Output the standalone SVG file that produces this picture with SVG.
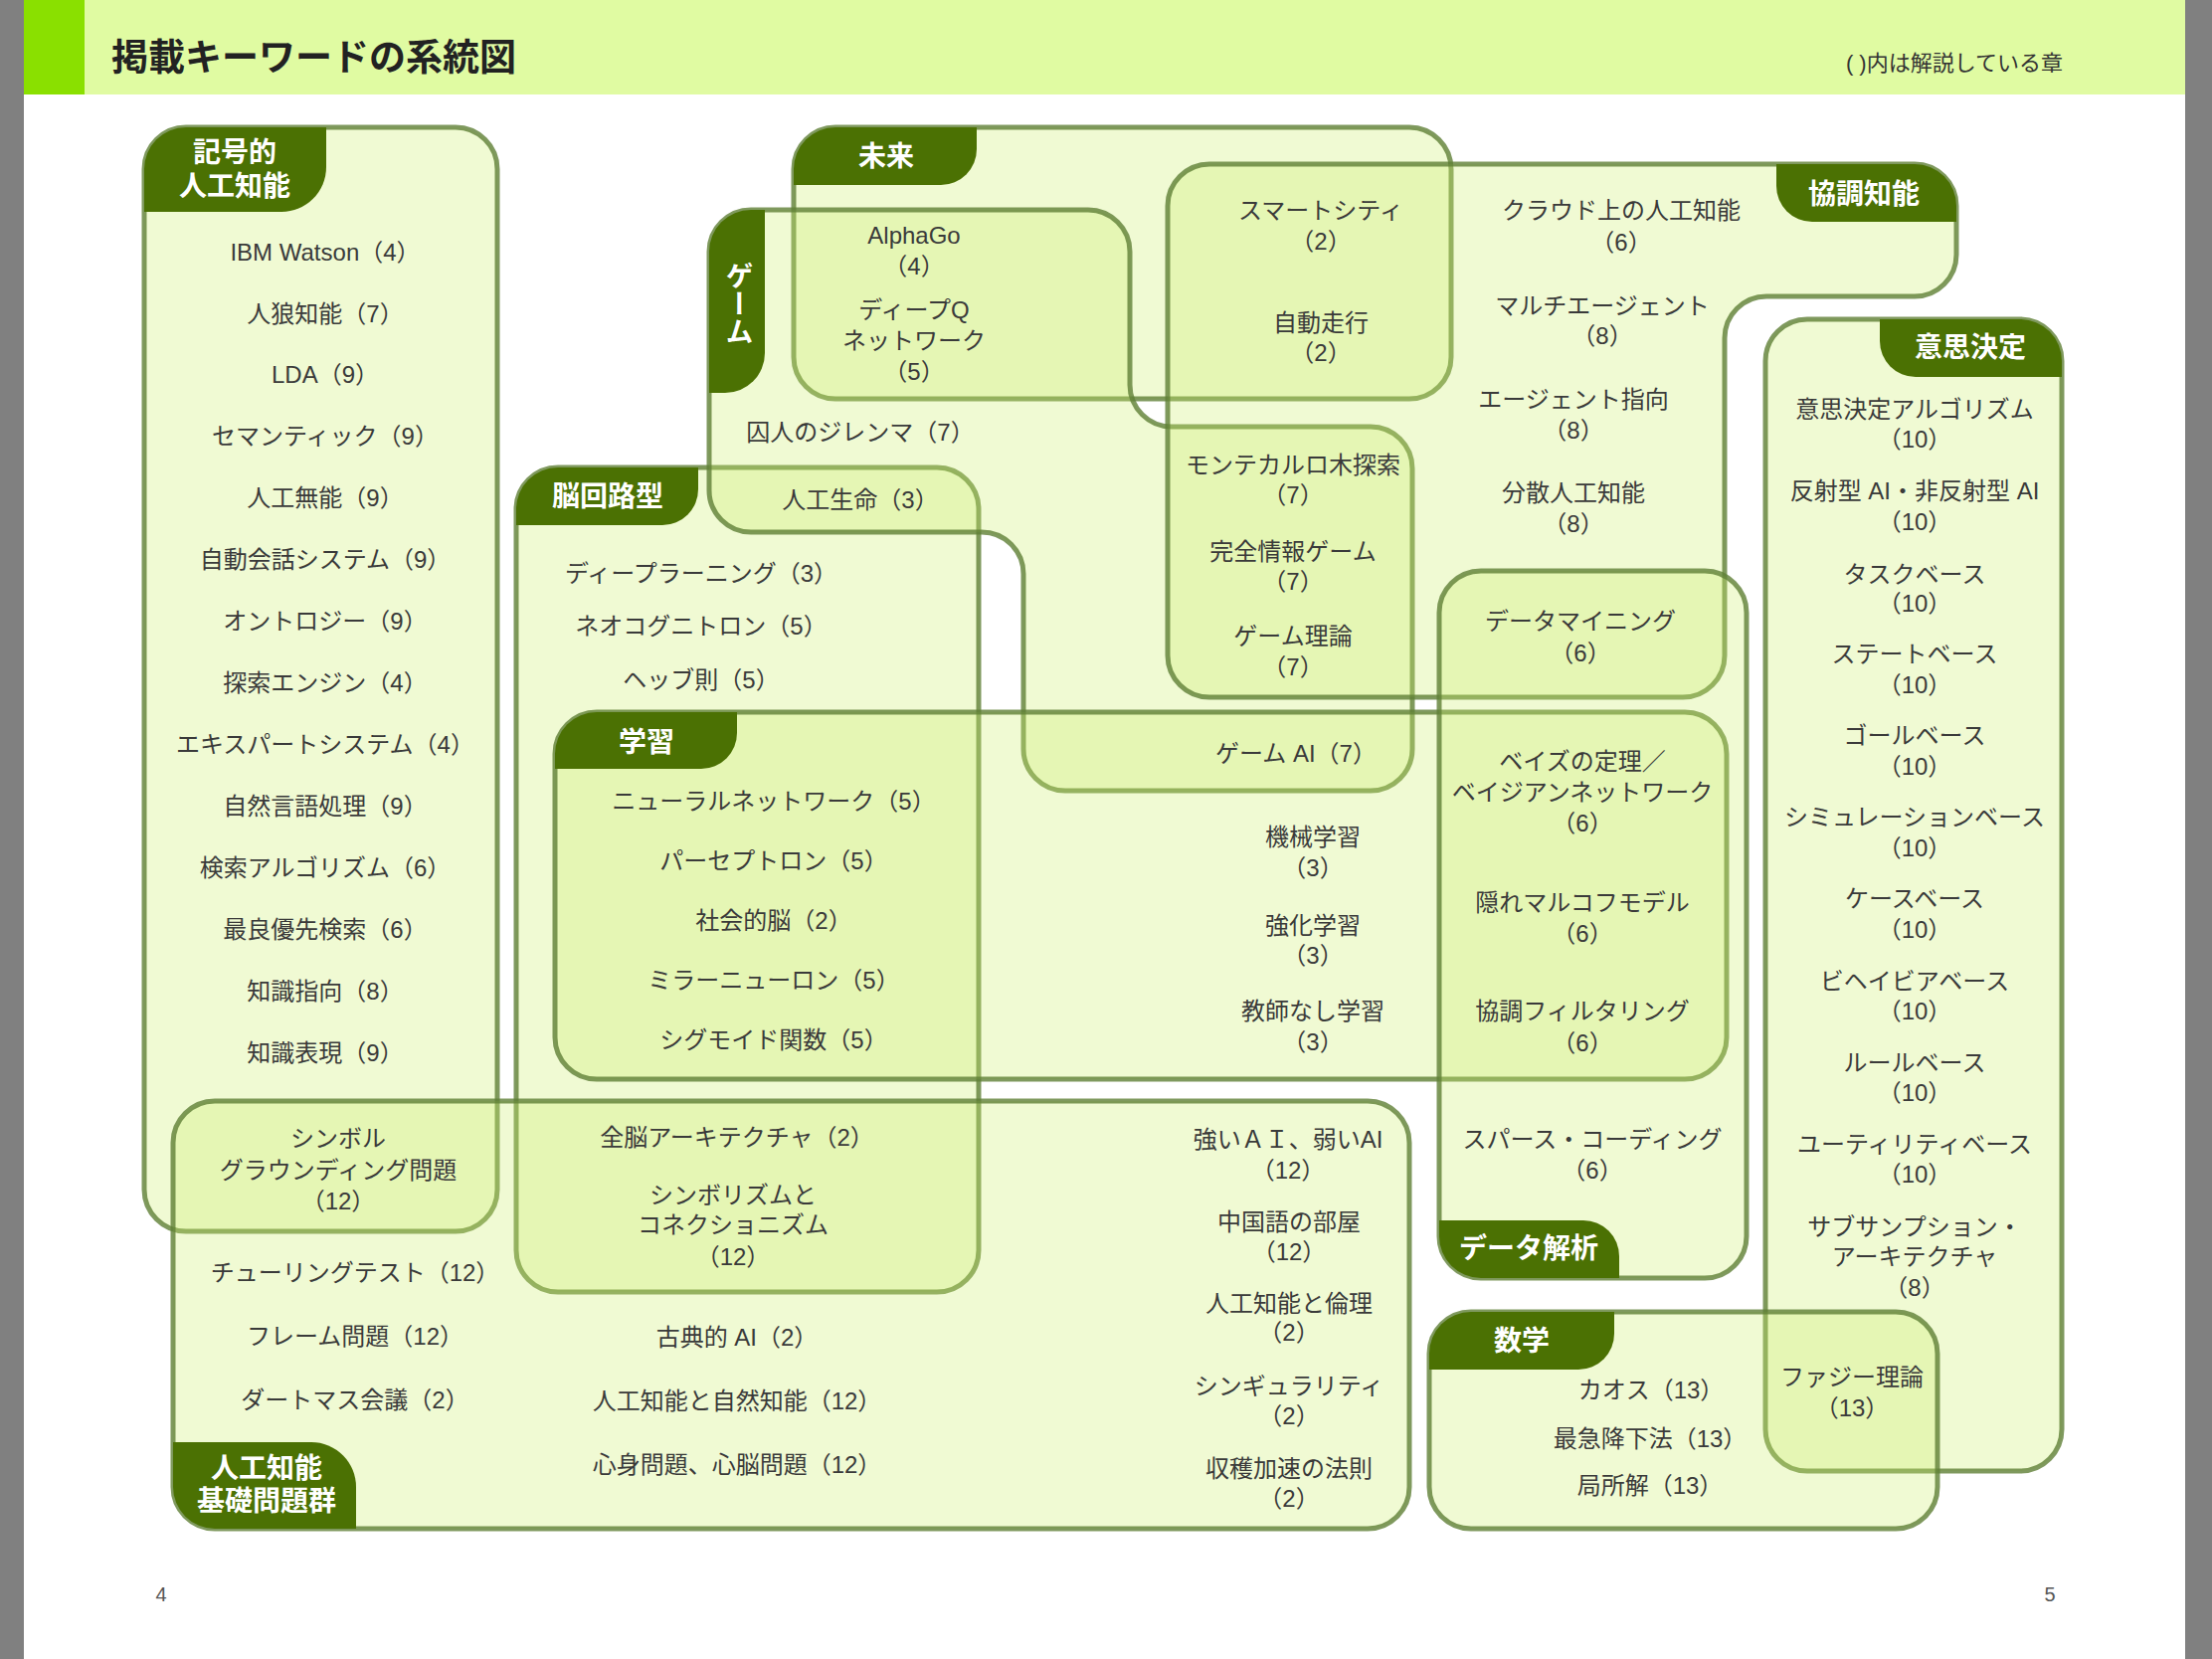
<svg xmlns="http://www.w3.org/2000/svg" width="2224" height="1668" viewBox="0 0 2224 1668">
<style>
.box{fill:rgb(205,240,110);fill-opacity:.3;stroke:#5f7f36;stroke-opacity:.8;stroke-width:5}
.tab{fill:#4b7103}
.tl{font-family:"Liberation Sans","Noto Sans CJK JP",sans-serif;font-weight:700;font-size:28px;fill:#fff;text-anchor:middle;dominant-baseline:central}
.t{font-family:"Liberation Sans","Noto Sans CJK JP",sans-serif;font-size:24px;fill:#3a3a3a;text-anchor:middle;dominant-baseline:central}
.title{font-family:"Liberation Sans","Noto Sans CJK JP",sans-serif;font-weight:700;font-size:37px;fill:#222;dominant-baseline:central}
.note{font-family:"Liberation Sans","Noto Sans CJK JP",sans-serif;font-size:22px;fill:#333;text-anchor:end;dominant-baseline:central}
.pg{font-family:"Liberation Sans",sans-serif;font-size:20px;fill:#555;text-anchor:middle;dominant-baseline:central}
</style>
<g id="page">
<rect x="0" y="0" width="2224" height="1668" fill="#ffffff"/>
<rect x="0" y="0" width="24" height="1668" fill="#808080"/>
<rect x="2197" y="0" width="27" height="1668" fill="#808080"/>
<rect x="24" y="0" width="2173" height="95" fill="#e0fba2"/>
<rect x="24" y="0" width="61" height="95" fill="#8ae000"/>
<text class="title" x="112" y="58">掲載キーワードの系統図</text>
<text class="note" x="2074" y="63">( )内は解説している章</text>
<text class="pg" x="162" y="1603">4</text>
<text class="pg" x="2061" y="1603">5</text>
</g>

<g id="kigouteki">
<rect class="box" x="145" y="128" width="355" height="1110" rx="42"/>
<path class="tab" d="M145 213V170A42 42 0 0 1 187 128H328V168A45 45 0 0 1 283 213Z"/>
<text class="tl" x="236" y="153">記号的</text>
<text class="tl" x="236" y="187">人工知能</text>
<text class="t" x="327" y="253">IBM Watson（4）</text>
<text class="t" x="327" y="315">人狼知能（7）</text>
<text class="t" x="327" y="376">LDA（9）</text>
<text class="t" x="327" y="438">セマンティック（9）</text>
<text class="t" x="327" y="500">人工無能（9）</text>
<text class="t" x="327" y="562">自動会話システム（9）</text>
<text class="t" x="327" y="624">オントロジー（9）</text>
<text class="t" x="327" y="686">探索エンジン（4）</text>
<text class="t" x="327" y="748">エキスパートシステム（4）</text>
<text class="t" x="327" y="810">自然言語処理（9）</text>
<text class="t" x="327" y="872">検索アルゴリズム（6）</text>
<text class="t" x="327" y="934">最良優先検索（6）</text>
<text class="t" x="327" y="996">知識指向（8）</text>
<text class="t" x="327" y="1058">知識表現（9）</text>
</g>

<g id="noukairo">
<rect class="box" x="519" y="470" width="465" height="829" rx="42"/>
<path class="tab" d="M519 528V512A42 42 0 0 1 561 470H702V492A36 36 0 0 1 666 528Z"/>
<text class="tl" x="611" y="499">脳回路型</text>
<text class="t" x="705" y="576">ディープラーニング（3）</text>
<text class="t" x="705" y="629">ネオコグニトロン（5）</text>
<text class="t" x="705" y="683">ヘッブ則（5）</text>
</g>

<g id="kiso">
<rect class="box" x="174" y="1107" width="1243" height="430" rx="42"/>
<path class="tab" d="M174 1450H313A45 45 0 0 1 358 1495V1537H216A42 42 0 0 1 174 1495Z"/>
<text class="tl" x="268" y="1476">人工知能</text>
<text class="tl" x="268" y="1509">基礎問題群</text>
<text class="t" x="340"><tspan x="340" y="1144">シンボル</tspan><tspan x="340" y="1176">グラウンディング問題</tspan><tspan x="340" y="1207">（12）</tspan></text>
<text class="t" x="357" y="1279">チューリングテスト（12）</text>
<text class="t" x="357" y="1343">フレーム問題（12）</text>
<text class="t" x="357" y="1407">ダートマス会議（2）</text>
<text class="t" x="741" y="1143">全脳アーキテクチャ（2）</text>
<text class="t" x="737"><tspan x="737" y="1201">シンボリズムと</tspan><tspan x="737" y="1231">コネクショニズム</tspan><tspan x="737" y="1263">（12）</tspan></text>
<text class="t" x="741" y="1344">古典的 AI（2）</text>
<text class="t" x="741" y="1408">人工知能と自然知能（12）</text>
<text class="t" x="741" y="1472">心身問題、心脳問題（12）</text>
<text class="t" x="1295"><tspan x="1295" y="1145">強いＡＩ、弱いAI</tspan><tspan x="1295" y="1176">（12）</tspan></text>
<text class="t" x="1296"><tspan x="1296" y="1228">中国語の部屋</tspan><tspan x="1296" y="1258">（12）</tspan></text>
<text class="t" x="1296"><tspan x="1296" y="1310">人工知能と倫理</tspan><tspan x="1296" y="1339">（2）</tspan></text>
<text class="t" x="1296"><tspan x="1296" y="1393">シンギュラリティ</tspan><tspan x="1296" y="1423">（2）</tspan></text>
<text class="t" x="1296"><tspan x="1296" y="1476">収穫加速の法則</tspan><tspan x="1296" y="1506">（2）</tspan></text>
</g>

<g id="mirai">
<rect class="box" x="798" y="128" width="661" height="273" rx="42"/>
<path class="tab" d="M798 186V170A42 42 0 0 1 840 128H982V150A36 36 0 0 1 946 186Z"/>
<text class="tl" x="891" y="157">未来</text>
</g>

<g id="game">
<path class="box" d="M755 211H1094A42 42 0 0 1 1136 253V387A42 42 0 0 0 1178 429H1378A42 42 0 0 1 1420 471V753A42 42 0 0 1 1378 795H1071A42 42 0 0 1 1029 753V577A42 42 0 0 0 987 535H755A42 42 0 0 1 713 493V253A42 42 0 0 1 755 211Z"/>
<path class="tab" d="M713 395V253A42 42 0 0 1 755 211H769V355A40 40 0 0 1 729 395Z"/>
<text class="tl" x="741" y="305" style="writing-mode:vertical-rl">ゲーム</text>
<text class="t" x="919"><tspan x="919" y="236">AlphaGo</tspan><tspan x="919" y="267">（4）</tspan></text>
<text class="t" x="919"><tspan x="919" y="311">ディープQ</tspan><tspan x="919" y="342">ネットワーク</tspan><tspan x="919" y="373">（5）</tspan></text>
<text class="t" x="865" y="434">囚人のジレンマ（7）</text>
<text class="t" x="865" y="502">人工生命（3）</text>
</g>

<g id="kyouchou">
<path class="box" d="M1216 165H1925A42 42 0 0 1 1967 207V256A42 42 0 0 1 1925 298H1776A42 42 0 0 0 1734 340V659A42 42 0 0 1 1692 701H1216A42 42 0 0 1 1174 659V207A42 42 0 0 1 1216 165Z"/>
<path class="tab" d="M1786 165H1925A42 42 0 0 1 1967 207V223H1822A36 36 0 0 1 1786 187Z"/>
<text class="tl" x="1874" y="195">協調知能</text>
<text class="t" x="1328"><tspan x="1328" y="211">スマートシティ</tspan><tspan x="1328" y="242">（2）</tspan></text>
<text class="t" x="1328"><tspan x="1328" y="324">自動走行</tspan><tspan x="1328" y="354">（2）</tspan></text>
<text class="t" x="1630"><tspan x="1630" y="211">クラウド上の人工知能</tspan><tspan x="1630" y="243">（6）</tspan></text>
<text class="t" x="1611"><tspan x="1611" y="307">マルチエージェント</tspan><tspan x="1611" y="337">（8）</tspan></text>
<text class="t" x="1582"><tspan x="1582" y="401">エージェント指向</tspan><tspan x="1582" y="432">（8）</tspan></text>
<text class="t" x="1582"><tspan x="1582" y="495">分散人工知能</tspan><tspan x="1582" y="526">（8）</tspan></text>
<text class="t" x="1300"><tspan x="1300" y="467">モンテカルロ木探索</tspan><tspan x="1300" y="497">（7）</tspan></text>
<text class="t" x="1300"><tspan x="1300" y="554">完全情報ゲーム</tspan><tspan x="1300" y="584">（7）</tspan></text>
<text class="t" x="1300"><tspan x="1300" y="639">ゲーム理論</tspan><tspan x="1300" y="670">（7）</tspan></text>
</g>

<g id="gakushu">
<rect class="box" x="558" y="716" width="1178" height="369" rx="42"/>
<path class="tab" d="M558 773V758A42 42 0 0 1 600 716H741V737A36 36 0 0 1 705 773Z"/>
<text class="tl" x="650" y="746">学習</text>
<text class="t" x="778" y="805">ニューラルネットワーク（5）</text>
<text class="t" x="778" y="865">パーセプトロン（5）</text>
<text class="t" x="778" y="925">社会的脳（2）</text>
<text class="t" x="778" y="985">ミラーニューロン（5）</text>
<text class="t" x="778" y="1045">シグモイド関数（5）</text>
<text class="t" x="1303" y="757">ゲーム AI（7）</text>
<text class="t" x="1320"><tspan x="1320" y="841">機械学習</tspan><tspan x="1320" y="872">（3）</tspan></text>
<text class="t" x="1320"><tspan x="1320" y="930">強化学習</tspan><tspan x="1320" y="960">（3）</tspan></text>
<text class="t" x="1320"><tspan x="1320" y="1016">教師なし学習</tspan><tspan x="1320" y="1047">（3）</tspan></text>
</g>

<g id="data">
<rect class="box" x="1447" y="574" width="309" height="711" rx="42"/>
<path class="tab" d="M1447 1227H1592A36 36 0 0 1 1628 1263V1285H1489A42 42 0 0 1 1447 1243Z"/>
<text class="tl" x="1537" y="1255">データ解析</text>
<text class="t" x="1589"><tspan x="1589" y="624">データマイニング</tspan><tspan x="1589" y="656">（6）</tspan></text>
<text class="t" x="1591"><tspan x="1591" y="765">ベイズの定理／</tspan><tspan x="1591" y="796">ベイジアンネットワーク</tspan><tspan x="1591" y="827">（6）</tspan></text>
<text class="t" x="1591"><tspan x="1591" y="907">隠れマルコフモデル</tspan><tspan x="1591" y="938">（6）</tspan></text>
<text class="t" x="1591"><tspan x="1591" y="1016">協調フィルタリング</tspan><tspan x="1591" y="1048">（6）</tspan></text>
<text class="t" x="1601"><tspan x="1601" y="1145">スパース・コーディング</tspan><tspan x="1601" y="1176">（6）</tspan></text>
</g>

<g id="ishikettei">
<rect class="box" x="1775" y="321" width="298" height="1158" rx="42"/>
<path class="tab" d="M1890 321H2031A42 42 0 0 1 2073 363V379H1926A36 36 0 0 1 1890 343Z"/>
<text class="tl" x="1981" y="349">意思決定</text>
<text class="t" x="1925"><tspan x="1925" y="411">意思決定アルゴリズム</tspan><tspan x="1925" y="441">（10）</tspan></text>
<text class="t" x="1925"><tspan x="1925" y="493">反射型 AI・非反射型 AI</tspan><tspan x="1925" y="524">（10）</tspan></text>
<text class="t" x="1925"><tspan x="1925" y="577">タスクベース</tspan><tspan x="1925" y="606">（10）</tspan></text>
<text class="t" x="1925"><tspan x="1925" y="657">ステートベース</tspan><tspan x="1925" y="688">（10）</tspan></text>
<text class="t" x="1925"><tspan x="1925" y="739">ゴールベース</tspan><tspan x="1925" y="770">（10）</tspan></text>
<text class="t" x="1925"><tspan x="1925" y="821">シミュレーションベース</tspan><tspan x="1925" y="852">（10）</tspan></text>
<text class="t" x="1925"><tspan x="1925" y="903">ケースベース</tspan><tspan x="1925" y="934">（10）</tspan></text>
<text class="t" x="1925"><tspan x="1925" y="986">ビヘイビアベース</tspan><tspan x="1925" y="1016">（10）</tspan></text>
<text class="t" x="1925"><tspan x="1925" y="1068">ルールベース</tspan><tspan x="1925" y="1098">（10）</tspan></text>
<text class="t" x="1925"><tspan x="1925" y="1150">ユーティリティベース</tspan><tspan x="1925" y="1180">（10）</tspan></text>
<text class="t" x="1925"><tspan x="1925" y="1233">サブサンプション・</tspan><tspan x="1925" y="1263">アーキテクチャ</tspan><tspan x="1925" y="1294">（8）</tspan></text>
</g>

<g id="suugaku">
<rect class="box" x="1437" y="1319" width="511" height="218" rx="42"/>
<path class="tab" d="M1437 1377V1361A42 42 0 0 1 1479 1319H1623V1341A36 36 0 0 1 1587 1377Z"/>
<text class="tl" x="1530" y="1348">数学</text>
<text class="t" x="1660" y="1397">カオス（13）</text>
<text class="t" x="1659" y="1446">最急降下法（13）</text>
<text class="t" x="1659" y="1493">局所解（13）</text>
<text class="t" x="1862"><tspan x="1862" y="1384">ファジー理論</tspan><tspan x="1862" y="1415">（13）</tspan></text>
</g>

<g id="connectors"></g>
</svg>
